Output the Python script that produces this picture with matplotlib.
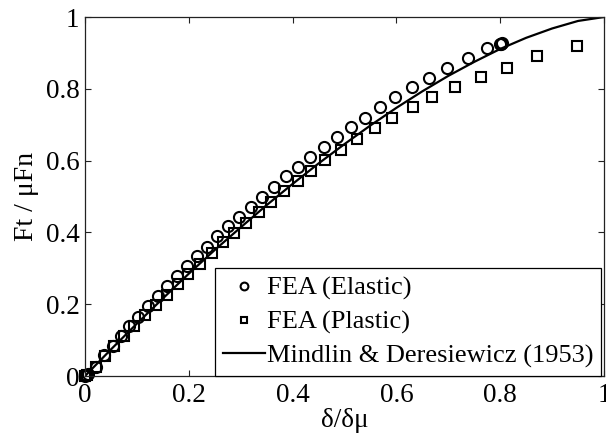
import matplotlib
matplotlib.use("Agg")
import matplotlib.pyplot as plt

plt.rcParams['font.family'] = ['Liberation Serif', 'DejaVu Serif']

# FEA results, elastic material
elastic_x = [0.0, 0.002, 0.005, 0.021, 0.037, 0.053, 0.069, 0.085, 0.103, 0.121,
             0.140, 0.158, 0.177, 0.196, 0.216, 0.235, 0.255, 0.276, 0.297,
             0.319, 0.341, 0.364, 0.387, 0.411, 0.434, 0.460, 0.485, 0.512,
             0.539, 0.568, 0.598, 0.631, 0.663, 0.698, 0.737, 0.774, 0.799,
             0.801, 0.803]
elastic_y = [0.0, 0.003, 0.006, 0.026, 0.058, 0.083, 0.112, 0.139, 0.165, 0.194,
             0.222, 0.251, 0.278, 0.306, 0.333, 0.359, 0.389, 0.417, 0.444,
             0.470, 0.498, 0.526, 0.556, 0.581, 0.610, 0.638, 0.667, 0.694,
             0.720, 0.748, 0.776, 0.804, 0.830, 0.859, 0.887, 0.915, 0.924,
             0.926, 0.928]

# FEA results, elastic-plastic material
plastic_x = [0.0, 0.003, 0.021, 0.039, 0.056, 0.075, 0.095, 0.116, 0.136, 0.158,
             0.179, 0.199, 0.222, 0.244, 0.266, 0.287, 0.310, 0.335, 0.358,
             0.383, 0.410, 0.435, 0.463, 0.494, 0.525, 0.558, 0.592, 0.632,
             0.669, 0.712, 0.763, 0.814, 0.870, 0.948]
plastic_y = [0.0, 0.002, 0.024, 0.056, 0.083, 0.111, 0.139, 0.169, 0.197, 0.225,
             0.257, 0.285, 0.313, 0.343, 0.373, 0.399, 0.427, 0.456, 0.486,
             0.515, 0.544, 0.572, 0.602, 0.630, 0.660, 0.690, 0.719, 0.748,
             0.776, 0.804, 0.832, 0.859, 0.892, 0.919]

# Mindlin & Deresiewicz analytical curve
theory_x = [0.0, 0.05, 0.10, 0.15, 0.20, 0.25, 0.30, 0.35, 0.40, 0.45, 0.50,
            0.55, 0.60, 0.65, 0.70, 0.75, 0.80, 0.85, 0.90, 0.95, 1.0]
theory_y = [0.0, 0.074, 0.146, 0.216, 0.285, 0.351, 0.414, 0.476, 0.535, 0.592,
            0.646, 0.698, 0.747, 0.793, 0.836, 0.875, 0.911, 0.942, 0.968,
            0.989, 1.0]

x_ticks = [0, 0.2, 0.4, 0.6, 0.8, 1]
x_tick_labels = ['0', '0.2', '0.4', '0.6', '0.8', '1']
y_ticks = [0, 0.2, 0.4, 0.6, 0.8, 1]
y_tick_labels = ['0', '0.2', '0.4', '0.6', '0.8', '1']

fig = plt.figure(figsize=(6.06, 4.38), dpi=100)
ax = fig.add_axes([85 / 606, 62 / 438, 519 / 606, 359 / 438])

ax.plot(elastic_x, elastic_y, linestyle='none', marker='o', ms=8,
        mfc='none', mec='black', mew=1.5, label='FEA (Elastic)', clip_on=False)
ax.plot(plastic_x, plastic_y, linestyle='none', marker='s', ms=6.5,
        mfc='none', mec='black', mew=1.5, label='FEA (Plastic)', clip_on=False)
ax.plot(theory_x, theory_y, color='black', lw=1.6,
        label='Mindlin & Deresiewicz (1953)')

ax.set_xlim(0, 1)
ax.set_ylim(0, 1)
ax.set_xticks(x_ticks)
ax.set_xticklabels(x_tick_labels)
ax.set_yticks(y_ticks)
ax.set_yticklabels(y_tick_labels)
ax.tick_params(direction='in', top=True, right=True, labelsize=19.5,
               length=4, width=0.8, colors='#222222', labelcolor='black')
ax.tick_params(axis='x', pad=5)
ax.tick_params(axis='y', pad=4)
for s in ax.spines.values():
    s.set_linewidth(0.9)
    s.set_color('#222222')

ax.set_xlabel('δ/δμ', fontsize=19.5, labelpad=0)
ax.set_ylabel('Ft / μFn', fontsize=20, labelpad=5)

leg = ax.legend(loc='lower right', bbox_to_anchor=(0.995, 0.0), borderaxespad=0,
                fontsize=19, frameon=True, fancybox=False, framealpha=1,
                edgecolor='black', markerscale=0.7, handlelength=1.6,
                handletextpad=0.08, borderpad=0.3, labelspacing=0.38)
leg.get_frame().set_linewidth(0.9)

fig.savefig('out.png', dpi=100)
